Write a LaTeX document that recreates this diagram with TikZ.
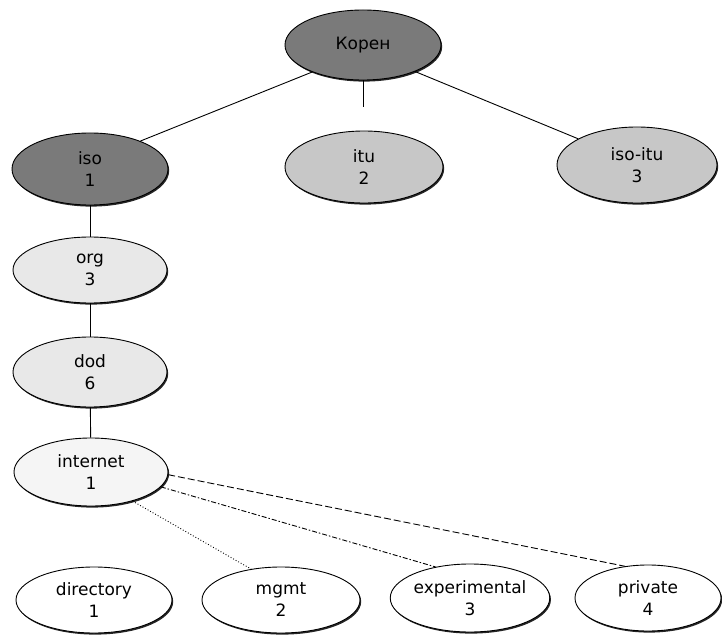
\documentclass[tikz,border=0pt]{standalone}
\usepackage{fontspec}
\setmainfont{DejaVu Sans}
\usetikzlibrary{shapes.geometric,shadows}
\begin{document}
\begin{tikzpicture}[x=1pt,y=-1pt,
  oid/.style={ellipse, draw=black, line width=0.9pt, inner sep=0pt, align=center,
    font=\fontsize{17}{22}\selectfont,
    drop shadow={shadow xshift=1.2pt, shadow yshift=-1.6pt, fill=black, opacity=0.85}},
  darkfill/.style={fill=black!52},
  midfill/.style={fill=black!22},
  lightfill/.style={fill=black!9},
  faintfill/.style={fill=black!4},
  plainfill/.style={fill=white},
  edge/.style={line width=0.9pt},
  dotline/.style={line width=0.9pt, dotted},
  dashdotline/.style={line width=0.9pt, dash pattern=on 5pt off 2pt on 1.5pt off 2pt},
  dashline/.style={line width=0.9pt, dash pattern=on 7pt off 3pt}]
\useasboundingbox (0,0) rectangle (722,636);
\fill[white] (0,0) rectangle (722,636);

\node[oid, darkfill, minimum width=156pt, minimum height=70pt] (root) at (363,45) {Корен};
\node[oid, darkfill, minimum width=156pt, minimum height=72pt] (iso) at (90,169) {iso\\1};
\node[oid, midfill, minimum width=158pt, minimum height=72pt] (itu) at (364,167) {itu\\2};
\node[oid, midfill, minimum width=160pt, minimum height=76pt] (isoitu) at (637,165) {iso-itu\\3};
\node[oid, lightfill, minimum width=154pt, minimum height=66pt] (org) at (90,270) {org\\3};
\node[oid, lightfill, minimum width=154pt, minimum height=70pt] (dod) at (90,372) {dod\\6};
\node[oid, faintfill, minimum width=154pt, minimum height=68pt] (internet) at (91,472) {internet\\1};
\node[oid, plainfill, minimum width=156pt, minimum height=66pt] (directory) at (94,600) {directory\\1};
\node[oid, plainfill, minimum width=158pt, minimum height=66pt] (mgmt) at (281,600) {mgmt\\2};
\node[oid, plainfill, minimum width=156pt, minimum height=68pt] (experimental) at (470,598) {experimental\\3};
\node[oid, plainfill, minimum width=146pt, minimum height=66pt] (private) at (648,598) {private\\4};

\coordinate (ituend) at (363,107);

\draw[edge] (root.208) -- (iso.29);
\draw[edge] (root.south) -- (ituend);
\draw[edge] (root.333) -- (isoitu.156);
\draw[edge] (iso) -- (org);
\draw[edge] (org) -- (dod);
\draw[edge] (dod) -- (internet);
\draw[dotline] (internet.-35) -- (mgmt.134);
\draw[dashdotline] (internet.-12) -- (experimental.138);
\draw[dashline] (internet.-2) -- (private.126);
\end{tikzpicture}
\end{document}
